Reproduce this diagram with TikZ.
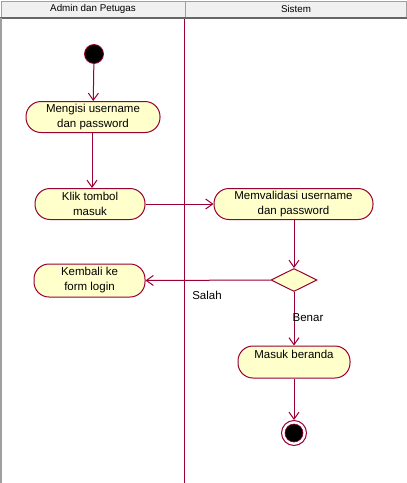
\documentclass[tikz,border=0pt]{standalone}
\usepackage{fontspec}
\setmainfont{Liberation Sans}
\usetikzlibrary{arrows.meta,shapes.geometric}
\definecolor{umlline}{RGB}{153,0,51}
\definecolor{umlfill}{RGB}{255,255,204}
\definecolor{hdrfill}{RGB}{240,240,240}
\definecolor{hdrline}{RGB}{160,160,160}
\tikzset{
  act/.style={draw=umlline, fill=umlfill, line width=1pt, rounded corners=15pt,
    inner sep=0pt, align=center, font=\fontsize{11.5}{15}\selectfont},
  flow/.style={draw=umlline, line width=1pt, -{Straight Barb[length=7pt,width=10pt]}},
  hdr/.style={draw=hdrline, fill=hdrfill, line width=1pt, font=\fontsize{9.8}{10}\selectfont},
  lbl/.style={font=\fontsize{11.5}{12}\selectfont, inner sep=0pt},
}
\begin{document}
\begin{tikzpicture}[x=1pt,y=-1pt]
\useasboundingbox (0,0) rectangle (407,483);
\fill[white] (0,0) rectangle (407,483);
% header
\node[hdr, minimum width=184pt, minimum height=16pt, anchor=north west] (h1) at (0.5,0.5) {Admin dan Petugas};
\node[hdr, minimum width=221pt, minimum height=16pt, anchor=north west] (h2) at (185,0.5) {Sistem};
\draw[color=gray!80!black, line width=1.5pt] (0,18) -- (407,18);
\draw[color=hdrline, line width=1.5pt] (1,18) -- (1,483);
\draw[umlline, line width=1pt] (184.5,19) -- (184.5,483);
% nodes
\node[circle, fill=black, draw=umlline, line width=0.8pt, minimum size=19pt, inner sep=0pt] (start) at (94,54) {};
\node[act, minimum width=134pt, minimum height=31pt] (isi) at (93,117) {Mengisi username\\dan password};
\node[act, minimum width=110pt, minimum height=31pt] (klik) at (90,204) {Klik tombol\\masuk};
\node[act, minimum width=159pt, minimum height=31pt] (valid) at (293.5,204) {Memvalidasi username\\dan password};
\node[diamond, aspect=2, draw=umlline, fill=umlfill, line width=1pt, minimum width=46pt, minimum height=23pt, inner sep=0pt] (dec) at (294,280) {};
\node[act, minimum width=111pt, minimum height=33pt] (kembali) at (89.5,280.5) {Kembali ke\\form login};
\node[act, minimum width=112pt, minimum height=32pt] (masuk) at (294,362) {Masuk beranda\\\mbox{}};
\node[circle, draw=umlline, line width=1pt, fill=white, minimum size=25pt, inner sep=0pt] (end) at (294,433) {};
\node[circle, fill=black, draw=umlline, line width=0.6pt, minimum size=18pt, inner sep=0pt] (endin) at (294,433) {};
% flows
\draw[flow] (start) -- (isi);
\draw[flow] (isi.south -| 92,0) -- (klik.north -| 92,0);
\draw[flow] (klik.east) -- (valid.west);
\draw[flow] (valid.south -| dec.north) -- (dec.north);
\draw[flow] (dec.west) -- (kembali.east);
\draw[flow] (dec.south) -- (masuk.north);
\draw[flow] (masuk.south) -- (end.north);
\node[lbl] (salahlbl) at (207,295) {Salah};
\node[lbl] (benarlbl) at (308,318) {Benar};
\end{tikzpicture}
\end{document}
